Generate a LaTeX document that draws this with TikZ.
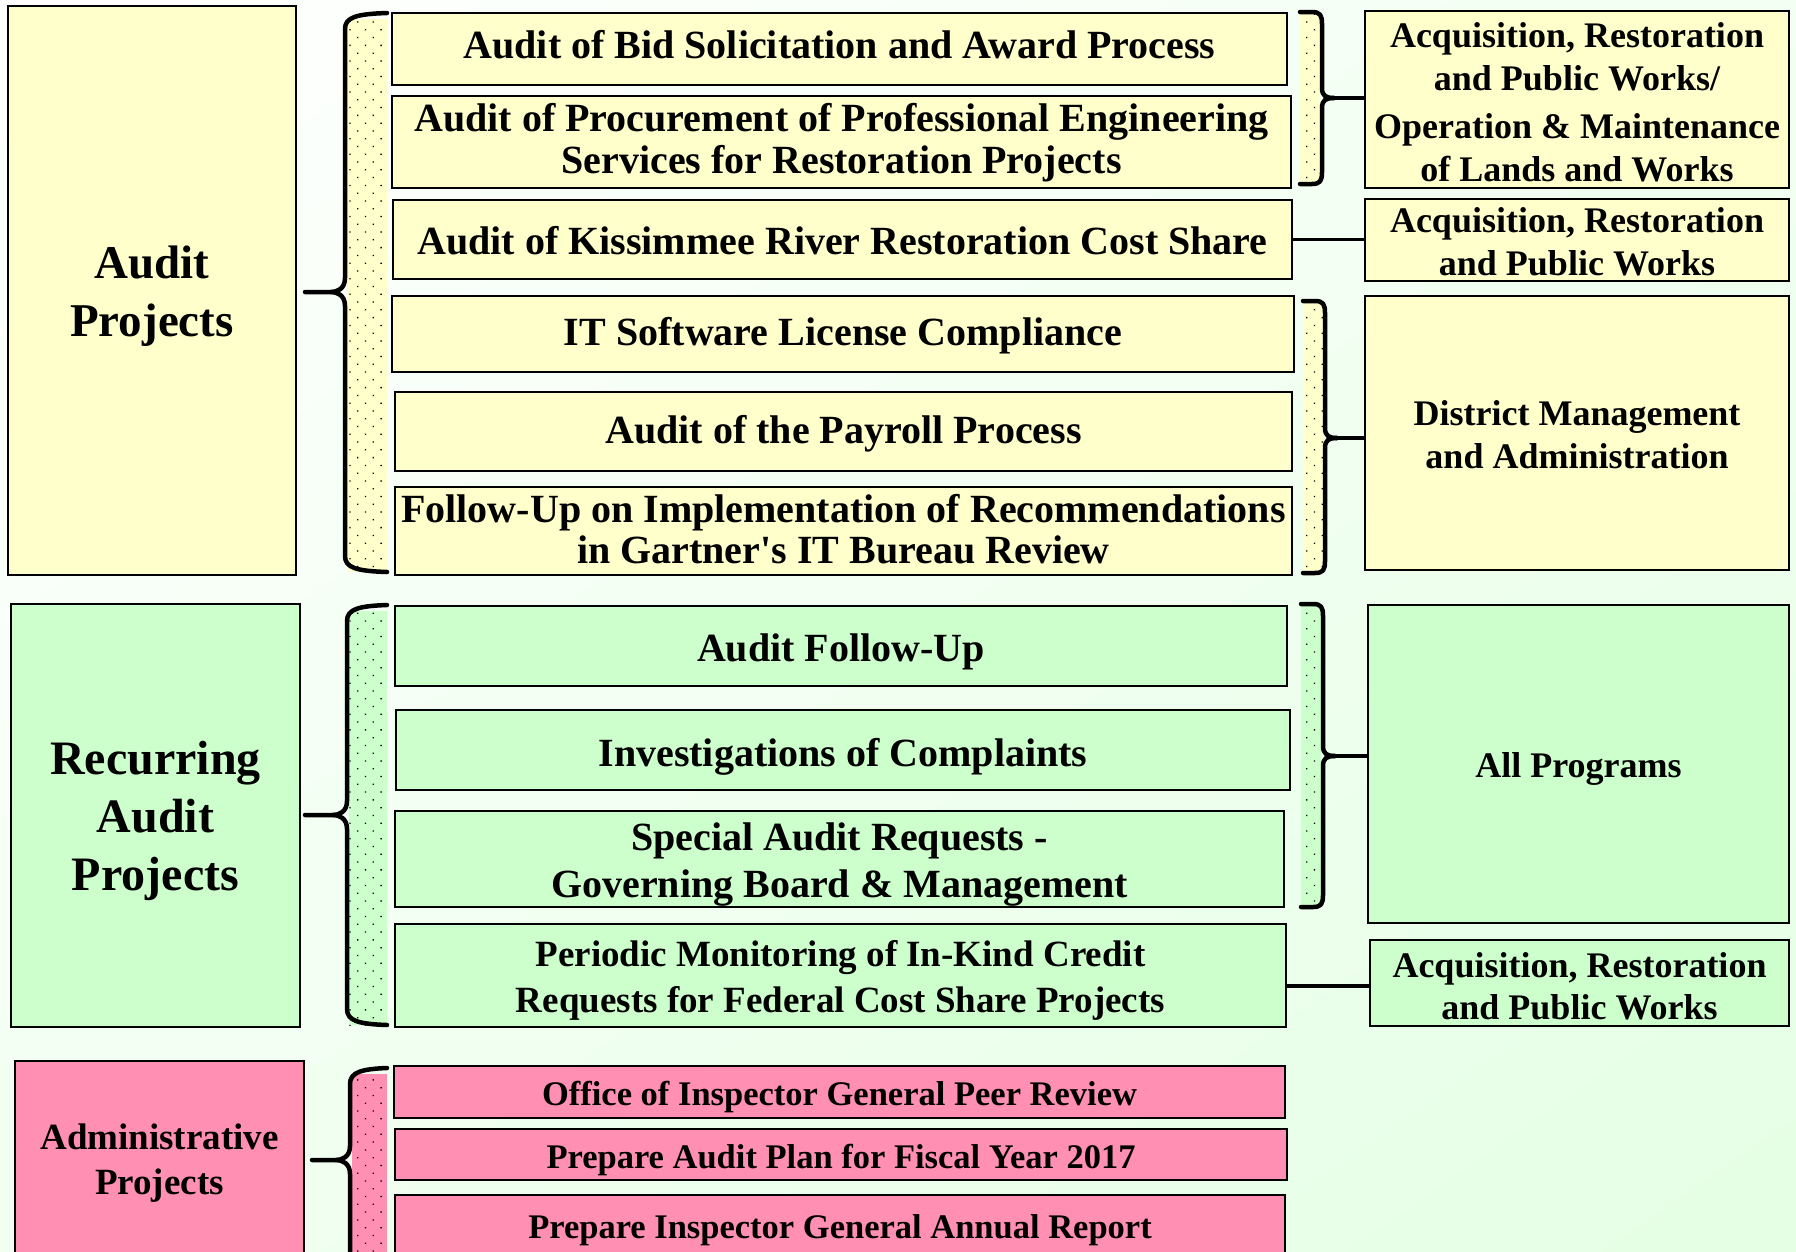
\documentclass[tikz,border=0pt]{standalone}
\usepackage{fontspec}
\setmainfont{Liberation Serif}
\usetikzlibrary{patterns.meta,shadings}
\definecolor{ylw}{HTML}{FFFFCC}
\definecolor{grn}{HTML}{CCFFCC}
\definecolor{pnk}{HTML}{FF8FB3}
\definecolor{bgA}{HTML}{FFFFFF}
\definecolor{bgB}{HTML}{F2FFF2}
\definecolor{bgC}{HTML}{E4FFE4}
\newcommand\fs[2]{\fontsize{#1}{#2}\selectfont\bfseries}
\newcommand\st{\rule[-0.14em]{0pt}{0.94em}}
\newcommand\apos{{\addfontfeatures{Ligatures=TeXOff}'}}
% style, name, x1, y1, x2, y2, text, vertical text offset
\newcommand\mybox[8]{%
  \node[#1, minimum width={(#5-#3)*1pt}, minimum height={(#6-#4)*1pt}] (#2) at ({(#3+#5)/2},{(#4+#6)/2}) {};
  \node[#1, draw=none, fill=none, minimum width=0pt, minimum height=0pt] (#2t) at ({(#3+#5)/2},{(#4+#6)/2+#8}) {#7};}
% left brace: spine x, top, bottom, tip x, tip y, fill colour, hatch width
\newcommand\mylbrace[7]{%
  \fill[#6] ({#1+2},{#2+6}) rectangle ({#1+#7},{#3});
  \fill[hatchdots] ({#1+2},{#2+6}) rectangle ({#1+#7},{#3});
  \draw[bracestyle] ({#1+#7},{#2}) .. controls ({#1+12},{#2+1}) and ({#1},{#2+4}) .. ({#1},{#2+16})
     -- ({#1},{#5-14}) .. controls ({#1},{#5-3}) and ({#1-8},{#5}) .. ({#1-14},{#5}) -- ({#4},{#5});
  \draw[bracestyle] ({#1-14},{#5}) .. controls ({#1-8},{#5}) and ({#1},{#5+3}) .. ({#1},{#5+14})
     -- ({#1},{#3-16}) .. controls ({#1},{#3-4}) and ({#1+12},{#3-1}) .. ({#1+#7},{#3});
}
% right brace: spine x, top, bottom, tip coordinate name, tip y, fill colour
\newcommand\myrbrace[6]{%
  \fill[#6] ({#1-22},{#2}) rectangle ({#1-2},{#3});
  \fill[hatchdots] ({#1-22},{#2}) rectangle ({#1-2},{#3});
  \draw[bracestyle] ({#1-22},{#2}) -- ({#1-10},{#2}) .. controls ({#1-2},{#2}) and ({#1},{#2+3}) .. ({#1},{#2+12})
     -- ({#1},{#5-10}) .. controls ({#1},{#5-2}) and ({#1+4},{#5}) .. ({#1+12},{#5});
  \draw[bracestyle] ({#1+12},{#5}) .. controls ({#1+4},{#5}) and ({#1},{#5+2}) .. ({#1},{#5+10})
     -- ({#1},{#3-12}) .. controls ({#1},{#3-3}) and ({#1-2},{#3}) .. ({#1-10},{#3}) -- ({#1-22},{#3});
  \coordinate (#4) at ({#1+10},{#5});
}
\tikzset{
  box/.style={draw=black, line width=2.7pt, inner sep=0pt, align=center},
  ybox/.style={box, fill=ylw},
  gbox/.style={box, fill=grn},
  pbox/.style={box, fill=pnk},
  bracestyle/.style={line width=4.5pt, line cap=round, line join=round},
  hatchdots/.style={pattern={Dots[radius=0.9pt,distance=11pt,angle=45]}, pattern color=black},
  link/.style={line width=3.3pt},
}
\begin{document}
\begin{tikzpicture}[x=1pt,y=-1pt]
\useasboundingbox (0,0) rectangle (1796,1251);
\clip (0,0) rectangle (1796,1251);
\shade[upper left=bgA, upper right=bgB, lower left=bgB, lower right=bgC] (0,0) rectangle (1796,1251);

% left category boxes
\mybox{ybox, font=\fs{47}{58}}{L1}{8}{6}{296}{575}{\st Audit\\\st Projects}{3.5}
\mybox{gbox, font=\fs{48}{58}}{L2}{11}{604}{300}{1027}{\st Recurring\\\st Audit\\\st Projects}{3}
\mybox{pbox, font=\fs{37}{45}}{L3}{15}{1061}{304}{1262}{\st Administrative\\\st Projects}{0}

% braces (drawn before middle boxes)
\mylbrace{345}{13}{572}{305}{292}{ylw}{42}
\mylbrace{347}{605}{1025}{305}{815}{grn}{40}
\mylbrace{350}{1068}{1270}{312}{1160}{pnk}{37}

\myrbrace{1322}{12}{184}{T1}{98}{ylw}
\myrbrace{1325}{301}{573}{T2}{438}{ylw}
\myrbrace{1323}{604}{907}{T3}{756}{grn}

% middle boxes
\mybox{ybox, font=\fs{40}{39}}{n1}{392}{13}{1287}{85}{\st Audit of Bid Solicitation and Award Process}{-3.5}
\mybox{ybox, font=\fs{40}{39}}{n2}{392}{96}{1291}{188}{\st Audit of Procurement of Professional Engineering\\\st Services for Restoration Projects}{-1}
\mybox{ybox, font=\fs{40}{39}}{n3}{393}{200}{1292}{279}{\st Audit of Kissimmee River Restoration Cost Share}{2}
\mybox{ybox, font=\fs{40}{39}}{n4}{392}{296}{1294}{372}{\st IT Software License Compliance}{0}
\mybox{ybox, font=\fs{40}{39}}{n5}{395}{392}{1292}{471}{\st Audit of the Payroll Process}{0}
\mybox{ybox, font=\fs{40}{38}}{n6}{395}{487}{1292}{575}{\st Follow-Up on Implementation of Recommendations\\\st in Gartner\apos s IT Bureau Review}{-1}

\mybox{gbox, font=\fs{40}{39}}{n7}{395}{606}{1287}{686}{\st Audit Follow-Up}{3.5}
\mybox{gbox, font=\fs{40}{39}}{n8}{396}{710}{1290}{790}{\st Investigations of Complaints}{4.5}
\mybox{gbox, font=\fs{40}{47}}{n9}{395}{811}{1284}{907}{\st Special Audit Requests -\\\st Governing Board \& Management}{3.5}
\mybox{gbox, font=\fs{37}{46}}{n10}{395}{924}{1286}{1027}{\st Periodic Monitoring of In-Kind Credit\\\st Requests for Federal Cost Share Projects}{3.5}

\mybox{pbox, font=\fs{34.5}{40}}{n11}{394}{1066}{1285}{1118}{\st Office of Inspector General Peer Review}{3.5}
\mybox{pbox, font=\fs{34.5}{40}}{n12}{395}{1129}{1287}{1180}{\st Prepare Audit Plan for Fiscal Year 2017}{3.5}
\mybox{pbox, font=\fs{34.5}{40}}{n13}{395}{1195}{1285}{1262}{\st Prepare Inspector General Annual Report}{0}

% right program boxes
\mybox{ybox, font=\fs{36}{42.5}}{R1}{1365}{11}{1789}{188}{\st Acquisition, Restoration\\\st and Public Works/\\[6pt]\st Operation \& Maintenance\\\st of Lands and Works}{3}
\mybox{ybox, font=\fs{36}{42.5}}{R2}{1365}{199}{1789}{281}{\st Acquisition, Restoration\\\st and Public Works}{2}
\mybox{ybox, font=\fs{36}{42.5}}{R3}{1365}{296}{1789}{570}{\st District Management\\\st and Administration}{2}
\mybox{gbox, font=\fs{36}{42.5}}{R4}{1368}{605}{1789}{923}{\st All Programs}{3.5}
\mybox{gbox, font=\fs{36}{42.5}}{R5}{1370}{940}{1789}{1026}{\st Acquisition, Restoration\\\st and Public Works}{3.5}

% connectors
\draw[link] (T1) -- (T1 -| R1.west);
\draw[link] (T2) -- (T2 -| R3.west);
\draw[link] (T3) -- (T3 -| R4.west);
\draw[link] (n3.east) -- (n3.east -| R2.west);
\coordinate (P5) at (1286,986);
\draw[link] (P5 -| n10.east) -- (P5 -| R5.west);
\end{tikzpicture}
\end{document}
